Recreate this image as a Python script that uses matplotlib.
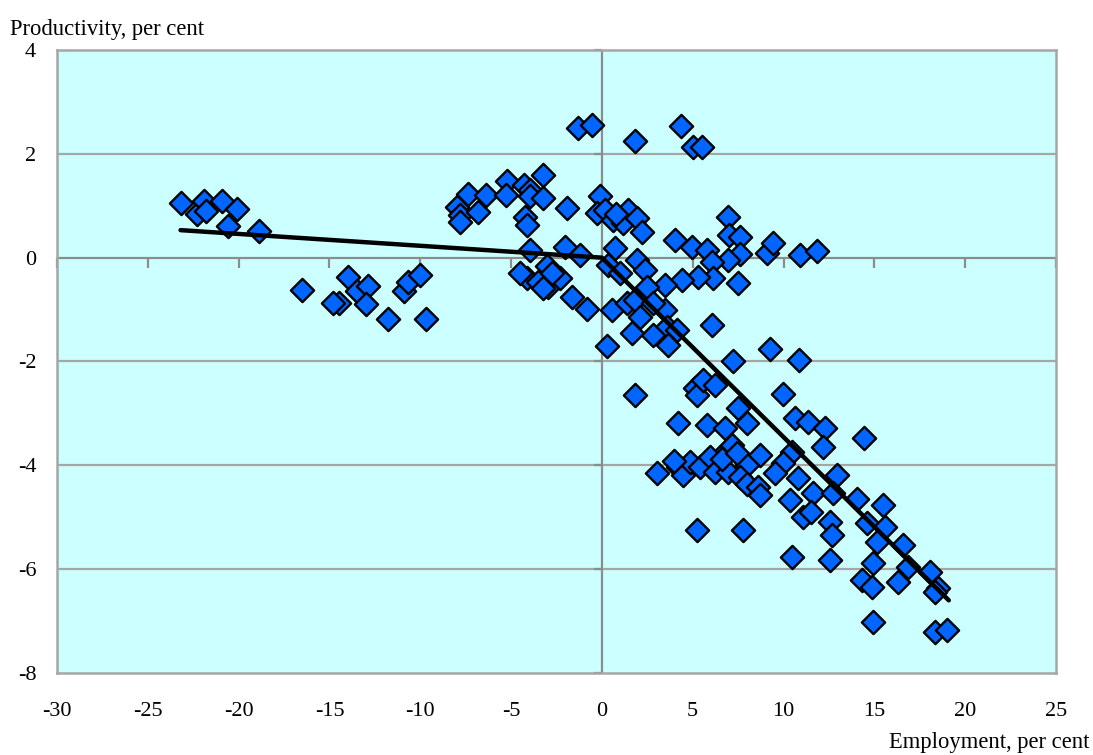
import matplotlib
matplotlib.use("Agg")
import matplotlib.pyplot as plt
from matplotlib.markers import TICKDOWN, TICKLEFT

plt.rcParams['font.family'] = ['Liberation Serif', 'DejaVu Serif']

# Employment change (x) vs productivity change (y), per cent
employment = [
    -23.2, -22.3, -21.9, -21.8, -20.9, -20.6, -20.1, -18.9,
    -16.5, -14.0, -14.5, -14.8, -13.5, -12.9, -13.0, -11.8, -10.9, -10.7, -10.0, -9.7,
    -8.0, -7.8, -7.8, -7.4, -6.8, -6.4, -5.2, -5.3, -4.3, -3.95, -3.96, -3.27, -3.23,
    -4.24, -4.15, -1.94,
    -1.34, -0.57, 1.82, 4.35, 5.03, 5.49,
    -0.11, -0.29, 0.17, 0.62, 1.45, 1.17, 1.91, 2.19, 0.8,
    4.02, 4.94, 5.76, 6.95, 7.0, 7.6, 7.6, 6.95, 6.04, 9.07, 9.43, 10.9, 11.82,
    6.13, 5.30, 4.39, 3.47, 7.51,
    -3.96, -2.04, -1.21, 0.72, 1.91, 2.37, -4.15, -4.52, -3.51, -2.96, -3.04, -2.31,
    -2.77, -3.23, -1.67, -0.84, 0.53, 0.35, 0.99, 1.36, 1.82, 2.09, 3.47, 3.56, 2.83,
    1.64, 0.26, 3.65, 4.11, 6.04, 2.46, 2.83,
    7.23, 9.25, 1.82, 5.12, 5.25, 5.58, 6.22, 7.51, 10.87, 9.98, 7.97, 10.63, 11.36,
    12.28, 12.19, 14.43, 4.20, 5.76, 6.77, 7.14, 6.50, 8.70, 7.97, 10.45, 9.98, 9.52,
    12.92, 14.02, 15.49, 10.81, 11.64, 12.74, 10.35, 11.08, 11.54, 12.56, 12.65, 14.58,
    15.58, 15.13, 10.45, 12.56, 14.94, 3.01, 4.20, 4.48, 4.85, 5.40, 5.95, 6.22, 6.95,
    6.59, 7.60, 7.97, 8.61, 8.70, 7.42, 5.21, 7.78, 3.95,
    16.58, 14.30, 14.85, 16.32, 16.87, 18.06, 18.52, 18.33, 14.94, 18.33, 18.98,
]
productivity = [
    1.05, 0.84, 1.10, 0.89, 1.10, 0.61, 0.93, 0.52,
    -0.62, -0.38, -0.87, -0.87, -0.65, -0.55, -0.89, -1.19, -0.64, -0.46, -0.33, -1.19,
    0.97, 0.82, 0.68, 1.22, 0.88, 1.21, 1.48, 1.21, 1.40, 1.30, 1.18, 1.59, 1.14,
    0.79, 0.63, 0.95,
    2.49, 2.56, 2.25, 2.54, 2.13, 2.13,
    1.18, 0.86, 0.92, 0.73, 0.92, 0.66, 0.76, 0.50, 0.85,
    0.34, 0.21, 0.15, 0.79, 0.44, 0.40, 0.08, -0.04, -0.08, 0.09, 0.28, 0.05, 0.12,
    -0.40, -0.37, -0.43, -0.53, -0.49,
    0.15, 0.21, 0.05, 0.18, -0.04, -0.24, -0.40, -0.30, -0.46, -0.56, -0.17, -0.40,
    -0.30, -0.59, -0.75, -0.98, -1.01, -0.14, -0.30, -0.88, -0.81, -1.14, -1.01, -1.33, -1.49,
    -1.46, -1.71, -1.68, -1.39, -1.30, -0.56, -0.88,
    -2.00, -1.75, -2.65, -2.52, -2.65, -2.36, -2.45, -2.90, -1.97, -2.63, -3.19, -3.09, -3.16,
    -3.29, -3.64, -3.48, -3.19, -3.22, -3.29, -3.61, -3.83, -3.80, -3.99, -3.74, -3.96, -4.15,
    -4.19, -4.64, -4.76, -4.25, -4.54, -4.54, -4.67, -4.99, -4.89, -5.09, -5.34, -5.12,
    -5.18, -5.47, -5.76, -5.82, -5.89, -4.15, -4.03, -4.19, -3.93, -4.03, -3.83, -4.12, -4.12,
    -3.87, -4.22, -4.35, -4.41, -4.57, -3.77, -5.25, -5.25, -3.92,
    -5.53, -6.21, -6.34, -6.24, -5.95, -6.05, -6.37, -6.44, -7.01, -7.21, -7.17,
]

# Piecewise trend line (break at the origin)
trend_x = [-23.2, 0.0, 19.1]
trend_y = [0.53, 0.0, -6.6]

x_ticks = [-30, -25, -20, -15, -10, -5, 0, 5, 10, 15, 20, 25]
y_ticks = [-8, -6, -4, -2, 0, 2, 4]

fig = plt.figure(figsize=(10.93, 7.55), dpi=100)
ax = fig.add_axes([0.0522, 0.1086, 0.9139, 0.8252])
ax.set_facecolor('#CCFFFF')
ax.set_xlim(-30, 25)
ax.set_ylim(-8, 4)

# horizontal gridlines
for yv in y_ticks:
    if yv not in (-8, 4, 0):
        ax.axhline(yv, color='#A6A6A6', lw=1.6, zorder=1)

# axes crossing at the origin
ax.axhline(0, color='#8C8C8C', lw=1.6, zorder=1.5)
ax.axvline(0, color='#8C8C8C', lw=1.6, zorder=1.5)
ax.plot(x_ticks, [0] * len(x_ticks), ls='none', marker=TICKDOWN, ms=7, mew=1.6,
        color='#8C8C8C', zorder=1.5, clip_on=False)
ax.plot([0] * len(y_ticks), y_ticks, ls='none', marker=TICKLEFT, ms=6, mew=1.6,
        color='#8C8C8C', zorder=1.5, clip_on=False)

ax.scatter(employment, productivity, marker='D', s=140, facecolor='#0066FF',
           edgecolor='black', linewidths=1.7, zorder=3)
ax.plot(trend_x, trend_y, color='black', lw=3.2, zorder=4, solid_capstyle='round')

for sp in ax.spines.values():
    sp.set_color('#A6A6A6')
    sp.set_linewidth(1.8)

ax.set_xticks(x_ticks)
ax.set_yticks(y_ticks)
ax.set_xticklabels([str(v) for v in x_ticks])
ax.set_yticklabels([str(v) for v in y_ticks])
ax.tick_params(axis='x', length=0, pad=21, labelsize=16)
ax.tick_params(axis='y', length=0, pad=15, labelsize=16)

fig.text(0.009, 0.961, 'Productivity, per cent', fontsize=16.3, ha='left', va='center')
fig.text(0.997, 0.003, 'Employment, per cent', fontsize=16.3, ha='right', va='bottom')

fig.savefig('out.png', dpi=100)
